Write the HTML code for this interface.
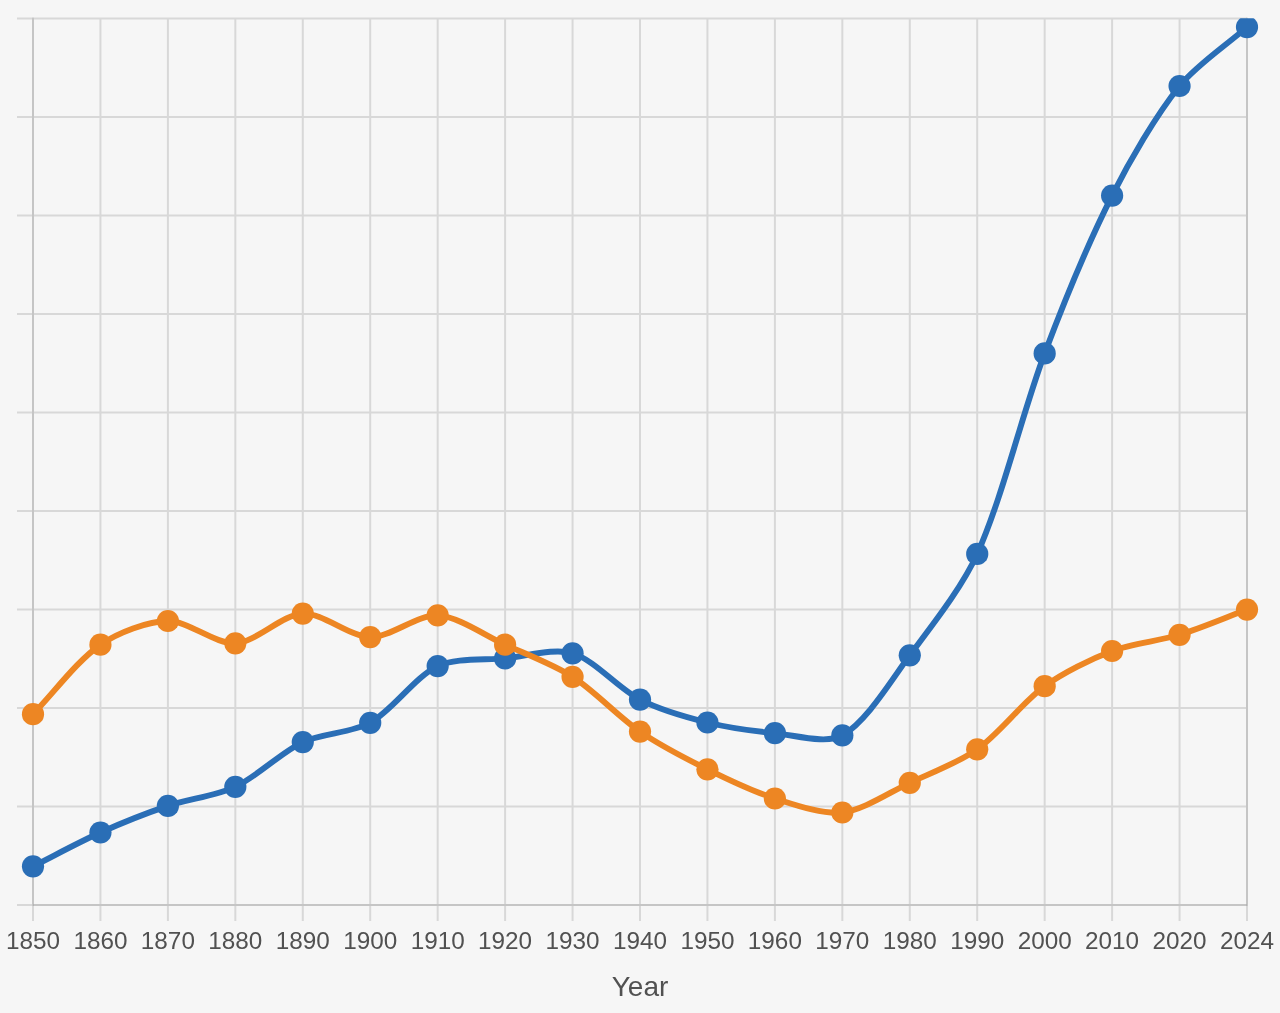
<!DOCTYPE html>
<html lang="en"><head><meta charset="utf-8"><title>Chart</title>
<style>html,body{margin:0;padding:0;background:#f6f6f6;}body{width:1280px;height:1013px;overflow:hidden;}svg{display:block;}text{font-family:"Liberation Sans",Arial,sans-serif;fill:#515151;}</style></head><body>
<svg width="1280" height="1013" viewBox="0 0 1280 1013">
<rect width="1280" height="1013" fill="#f6f6f6"/>
<defs><clipPath id="ca"><rect x="0" y="18.3" width="1280" height="900"/></clipPath></defs>
<g stroke="#d8d8d8" stroke-width="2" fill="none"><line x1="17" y1="18.50" x2="1247.00" y2="18.50"/><line x1="17" y1="117.00" x2="1247.00" y2="117.00"/><line x1="17" y1="215.50" x2="1247.00" y2="215.50"/><line x1="17" y1="314.00" x2="1247.00" y2="314.00"/><line x1="17" y1="412.50" x2="1247.00" y2="412.50"/><line x1="17" y1="511.00" x2="1247.00" y2="511.00"/><line x1="17" y1="609.50" x2="1247.00" y2="609.50"/><line x1="17" y1="708.00" x2="1247.00" y2="708.00"/><line x1="17" y1="806.50" x2="1247.00" y2="806.50"/><line x1="17" y1="905.00" x2="1247.00" y2="905.00"/><line x1="33.00" y1="18.50" x2="33.00" y2="921"/><line x1="100.44" y1="18.50" x2="100.44" y2="921"/><line x1="167.89" y1="18.50" x2="167.89" y2="921"/><line x1="235.33" y1="18.50" x2="235.33" y2="921"/><line x1="302.78" y1="18.50" x2="302.78" y2="921"/><line x1="370.22" y1="18.50" x2="370.22" y2="921"/><line x1="437.67" y1="18.50" x2="437.67" y2="921"/><line x1="505.11" y1="18.50" x2="505.11" y2="921"/><line x1="572.56" y1="18.50" x2="572.56" y2="921"/><line x1="640.00" y1="18.50" x2="640.00" y2="921"/><line x1="707.44" y1="18.50" x2="707.44" y2="921"/><line x1="774.89" y1="18.50" x2="774.89" y2="921"/><line x1="842.33" y1="18.50" x2="842.33" y2="921"/><line x1="909.78" y1="18.50" x2="909.78" y2="921"/><line x1="977.22" y1="18.50" x2="977.22" y2="921"/><line x1="1044.67" y1="18.50" x2="1044.67" y2="921"/><line x1="1112.11" y1="18.50" x2="1112.11" y2="921"/><line x1="1179.56" y1="18.50" x2="1179.56" y2="921"/><line x1="1247.00" y1="18.50" x2="1247.00" y2="921"/></g>
<g stroke="#000" stroke-opacity="0.085" stroke-width="2"><line x1="33.00" y1="17.50" x2="33.00" y2="906.00"/><line x1="33.00" y1="905.00" x2="1247.00" y2="905.00"/><line x1="1247.00" y1="17.50" x2="1247.00" y2="906.00"/></g>
<g clip-path="url(#ca)">
<path d="M33.00 866.30 C53.23 856.16 79.81 841.74 100.44 832.50 C120.28 823.62 147.31 812.87 167.89 805.90 C187.78 799.16 216.55 795.68 235.33 786.80 C257.02 776.54 281.10 752.38 302.78 742.10 C321.57 733.18 352.29 732.91 370.22 722.80 C392.75 710.11 414.81 677.01 437.67 666.10 C455.28 657.69 484.84 660.32 505.11 658.40 C525.31 656.48 554.24 647.71 572.56 653.30 C594.71 660.07 618.37 688.50 640.00 699.60 C658.83 709.26 686.78 717.35 707.44 722.50 C727.25 727.43 754.54 731.25 774.89 733.20 C795.00 735.12 826.47 744.56 842.33 735.40 C866.94 721.19 891.07 680.47 909.78 655.30 C931.54 626.02 962.44 586.99 977.22 553.90 C1002.90 496.42 1022.32 412.75 1044.67 353.40 C1062.79 305.26 1088.99 241.44 1112.11 195.60 C1129.45 161.22 1155.69 115.81 1179.56 86.00 C1196.16 65.26 1226.77 44.77 1247.00 27.10" fill="none" stroke="#2a6eb6" stroke-width="5.9" stroke-linejoin="miter" stroke-linecap="butt"/>
<g fill="#2a6eb6"><circle cx="33.00" cy="866.30" r="11.1"/><circle cx="100.44" cy="832.50" r="11.1"/><circle cx="167.89" cy="805.90" r="11.1"/><circle cx="235.33" cy="786.80" r="11.1"/><circle cx="302.78" cy="742.10" r="11.1"/><circle cx="370.22" cy="722.80" r="11.1"/><circle cx="437.67" cy="666.10" r="11.1"/><circle cx="505.11" cy="658.40" r="11.1"/><circle cx="572.56" cy="653.30" r="11.1"/><circle cx="640.00" cy="699.60" r="11.1"/><circle cx="707.44" cy="722.50" r="11.1"/><circle cx="774.89" cy="733.20" r="11.1"/><circle cx="842.33" cy="735.40" r="11.1"/><circle cx="909.78" cy="655.30" r="11.1"/><circle cx="977.22" cy="553.90" r="11.1"/><circle cx="1044.67" cy="353.40" r="11.1"/><circle cx="1112.11" cy="195.60" r="11.1"/><circle cx="1179.56" cy="86.00" r="11.1"/><circle cx="1247.00" cy="27.10" r="11.1"/></g>
<path d="M33.00 714.20 C53.23 693.35 77.16 660.79 100.44 644.70 C117.63 632.83 147.59 621.21 167.89 621.00 C188.06 620.79 215.47 644.39 235.33 643.30 C255.94 642.17 282.23 614.54 302.78 613.60 C322.69 612.68 349.91 636.83 370.22 637.10 C390.37 637.37 417.81 614.28 437.67 615.40 C458.28 616.56 485.04 635.56 505.11 644.70 C525.50 653.98 553.85 664.75 572.56 676.80 C594.32 690.82 618.58 716.91 640.00 731.60 C659.05 744.66 686.70 759.01 707.44 769.30 C727.17 779.08 754.00 791.81 774.89 798.50 C794.47 804.77 822.78 814.78 842.33 812.50 C863.25 810.07 889.76 792.18 909.78 782.80 C930.23 773.22 959.05 762.32 977.22 749.30 C999.51 733.34 1022.48 702.37 1044.67 686.20 C1062.94 672.88 1090.94 659.07 1112.11 651.00 C1131.41 643.65 1159.70 640.89 1179.56 634.80 C1200.17 628.47 1226.77 617.16 1247.00 609.60" fill="none" stroke="#ed8623" stroke-width="5.9" stroke-linejoin="miter" stroke-linecap="butt"/>
<g fill="#ed8623"><circle cx="33.00" cy="714.20" r="11.1"/><circle cx="100.44" cy="644.70" r="11.1"/><circle cx="167.89" cy="621.00" r="11.1"/><circle cx="235.33" cy="643.30" r="11.1"/><circle cx="302.78" cy="613.60" r="11.1"/><circle cx="370.22" cy="637.10" r="11.1"/><circle cx="437.67" cy="615.40" r="11.1"/><circle cx="505.11" cy="644.70" r="11.1"/><circle cx="572.56" cy="676.80" r="11.1"/><circle cx="640.00" cy="731.60" r="11.1"/><circle cx="707.44" cy="769.30" r="11.1"/><circle cx="774.89" cy="798.50" r="11.1"/><circle cx="842.33" cy="812.50" r="11.1"/><circle cx="909.78" cy="782.80" r="11.1"/><circle cx="977.22" cy="749.30" r="11.1"/><circle cx="1044.67" cy="686.20" r="11.1"/><circle cx="1112.11" cy="651.00" r="11.1"/><circle cx="1179.56" cy="634.80" r="11.1"/><circle cx="1247.00" cy="609.60" r="11.1"/></g>
</g>
<g font-size="24.3" text-anchor="middle"><text x="33.00" y="949.3">1850</text><text x="100.44" y="949.3">1860</text><text x="167.89" y="949.3">1870</text><text x="235.33" y="949.3">1880</text><text x="302.78" y="949.3">1890</text><text x="370.22" y="949.3">1900</text><text x="437.67" y="949.3">1910</text><text x="505.11" y="949.3">1920</text><text x="572.56" y="949.3">1930</text><text x="640.00" y="949.3">1940</text><text x="707.44" y="949.3">1950</text><text x="774.89" y="949.3">1960</text><text x="842.33" y="949.3">1970</text><text x="909.78" y="949.3">1980</text><text x="977.22" y="949.3">1990</text><text x="1044.67" y="949.3">2000</text><text x="1112.11" y="949.3">2010</text><text x="1179.56" y="949.3">2020</text><text x="1247.00" y="949.3">2024</text></g>
<text x="640" y="995.8" font-size="28" text-anchor="middle">Year</text>
</svg></body></html>
